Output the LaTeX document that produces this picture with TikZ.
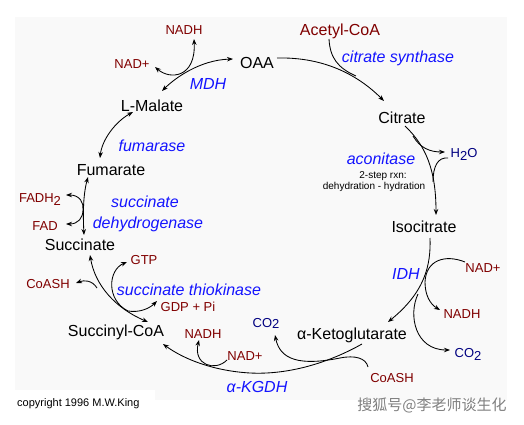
\documentclass[tikz,border=0pt]{standalone}
\usepackage{fontspec}
\setmainfont{Liberation Sans}
\newfontfamily\cjkfont{Noto Sans CJK SC}
\usetikzlibrary{arrows.meta}
\definecolor{cofred}{HTML}{800000}
\definecolor{enzblue}{HTML}{1414FF}
\definecolor{navyc}{HTML}{000080}
\definecolor{bgc}{HTML}{F9F9F9}
\begin{document}
\begin{tikzpicture}[x=1pt,y=-1pt,
  met/.style={font=\fontsize{16}{17}\selectfont, text=black, inner sep=0pt},
  enz/.style={font=\fontsize{16}{17}\selectfont\itshape, text=enzblue, inner sep=0pt},
  cof/.style={font=\fontsize{13}{14}\selectfont, text=cofred, inner sep=0pt},
  gas/.style={font=\fontsize{13}{14}\selectfont, text=navyc, inner sep=0pt},
  note/.style={font=\fontsize{10}{11}\selectfont, text=black, inner sep=0pt},
  link/.style={line width=0.85pt, draw=black},
  tipe/.style={-{Stealth[length=6pt,width=4.5pt]}},
  tipb/.style={{Stealth[length=6pt,width=4.5pt]}-{Stealth[length=6pt,width=4.5pt]}},
]
\useasboundingbox (0,0) rectangle (524,425);
\fill[white] (0,0) rectangle (524,425);
\fill[bgc] (15,17) rectangle (507,400);
\fill[white] (15,390) rectangle (155,413);

% metabolites
\node[met] (oaa) at (257,63) {OAA};
\node[met] (cit) at (402,118) {Citrate};
\node[met] (iso) at (424,227) {Isocitrate};
\node[met] (akg) at (352,335) {α-Ketoglutarate};
\node[met] (sucoa) at (116,332) {Succinyl-CoA};
\node[met] (suc) at (80,245) {Succinate};
\node[met] (fum) at (111,170) {Fumarate};
\node[met] (mal) at (152,106) {L-Malate};

% enzymes
\node[enz] (mdh) at (208,84) {MDH};
\node[enz] (cs) at (398,58) {citrate synthase};
\node[enz] (acon) at (381,159) {aconitase};
\node[note] (rxn1) at (383,176) {2-step rxn:};
\node[note] (rxn2) at (374,187) {dehydration - hydration};
\node[enz] (idh) at (406,274) {IDH};
\node[enz] (akgdh) at (257,387) {α-KGDH};
\node[enz] (sts) at (189,290) {succinate thiokinase};
\node[enz] (sdh1) at (145,202) {succinate};
\node[enz] (sdh2) at (148,224) {dehydrogenase};
\node[enz] (fumase) at (152,146) {fumarase};

% cofactors
\node[cof] (nadhT) at (184,30) {NADH};
\node[cof] (nadT) at (132,64) {NAD+};
\node[cof, font=\fontsize{16}{17}\selectfont] (acoa) at (340,31) {Acetyl-CoA};
\node[gas] (h2o) at (464,154) {H\raisebox{-3pt}{2}O};
\node[cof] (nadR) at (483,268) {NAD+};
\node[cof] (nadhR) at (462,314) {NADH};
\node[gas] (co2R) at (468,354) {CO\raisebox{-3pt}{2}};
\node[gas] (co2L) at (266,323) {CO\raisebox{-1pt}{2}};
\node[cof] (coashR) at (392,378) {CoASH};
\node[cof] (nadB) at (245,356) {NAD+};
\node[cof] (nadhB) at (203,334) {NADH};
\node[cof] (gdp) at (188,306.5) {GDP + Pi};
\node[cof] (gtp) at (144,260) {GTP};
\node[cof] (coashL) at (48,284) {CoASH};
\node[cof] (fad) at (45,226) {FAD};
\node[cof] (fadh2) at (40,200) {FADH\raisebox{-3pt}{2}};

\node[note, font=\fontsize{11}{12}\selectfont, anchor=west] (copy) at (17,404) {copyright 1996 M.W.King};
\node[font=\cjkfont\fontsize{15}{16}\selectfont, text=black!50, inner sep=0pt] (wm) at (432,405) {搜狐号@李老师谈生化};

% connector coordinates
\coordinate (oaaOut) at (277,58);
\coordinate (citIn) at (384,101);
\coordinate (acoaOut) at (329,39);
\coordinate (acoaJ) at (356,76);
\coordinate (citOut) at (405,126);
\coordinate (isoIn) at (436,215);
\coordinate (h2oBr) at (413,136);
\coordinate (h2oOut) at (445,152);
\coordinate (h2oIn) at (448,158);
\coordinate (h2oJ) at (433,182);
\coordinate (isoOut) at (430,238);
\coordinate (akgIn) at (388,322);
\coordinate (nadRIn) at (465,262);
\coordinate (nadhROut) at (440,310);
\coordinate (co2RBr) at (418,294);
\coordinate (co2ROut) at (450,350);
\coordinate (akgOut) at (362,344);
\coordinate (sucoaIn) at (163,344);
\coordinate (kgJ) at (340,358);
\coordinate (co2LOut) at (275,335);
\coordinate (coashRIn) at (368,367);
\coordinate (nadBIn) at (227,360);
\coordinate (nadhBOut) at (199,340);
\coordinate (sucIn) at (90,255);
\coordinate (sucoaOut) at (148,322);
\coordinate (stJ) at (97,288);
\coordinate (coashLOut) at (76,283);
\coordinate (gtpT) at (127,262);
\coordinate (gdpT) at (157,301);
\coordinate (sucOut) at (84,235);
\coordinate (fumIn) at (88,177);
\coordinate (fadh2T) at (66,195);
\coordinate (fadT) at (66,224);
\coordinate (fumOut) at (100,158);
\coordinate (malIn) at (133,112);
\coordinate (malOut) at (162,91);
\coordinate (oaaIn) at (233,59);
\coordinate (nadTT) at (155,67);
\coordinate (nadhTT) at (194,39);

% OAA -> Citrate
\draw[link, tipe] (oaaOut) .. controls (320,57) and (355,72) .. (citIn);
\draw[link] (acoaOut) .. controls (330,58) and (338,68) .. (acoaJ);
% Citrate -> Isocitrate
\draw[link, tipe] (citOut) .. controls (426,146) and (436,170) .. (isoIn);
\draw[link, tipe] (h2oBr) .. controls (420,148) and (430,152) .. (h2oOut);
\draw[link] (h2oIn) .. controls (438,157) and (433,166) .. (h2oJ);
% Isocitrate -> alpha-KG
\draw[link, tipe] (isoOut) .. controls (431,265) and (425,292) .. (akgIn);
\draw[link, tipe] (nadRIn) .. controls (445,254) and (426,260) .. (425,282) .. controls (425,295) and (430,304) .. (nadhROut);
\draw[link, tipe] (co2RBr) .. controls (408,315) and (415,350) .. (co2ROut);
% alpha-KG -> Succinyl-CoA
\draw[link, tipe] (akgOut) .. controls (330,362) and (290,375) .. (250,373) .. controls (215,371) and (185,360) .. (sucoaIn);
\draw[link, tipe] (kgJ) .. controls (300,366) and (280,360) .. (co2LOut);
\draw[link] (coashRIn) .. controls (366,358) and (355,355) .. (kgJ);
\draw[link, tipe] (nadBIn) .. controls (215,372) and (193,365) .. (nadhBOut);
% Succinyl-CoA <-> Succinate
\draw[link, tipb] (sucIn) .. controls (95,285) and (115,308) .. (sucoaOut);
\draw[link, tipe] (stJ) .. controls (92,280) and (84,280) .. (coashLOut);
\draw[link, tipb] (gtpT) .. controls (108,270) and (106,300) .. (128,311) .. controls (140,313) and (150,308) .. (gdpT);
% Succinate <-> Fumarate
\draw[link, tipb] (sucOut) .. controls (83,215) and (83,195) .. (fumIn);
\draw[link, tipb] (fadh2T) .. controls (80,195) and (84,203) .. (83,210) .. controls (83,218) and (78,224) .. (fadT);
% Fumarate <-> L-Malate
\draw[link, tipb] (fumOut) .. controls (102,140) and (115,122) .. (malIn);
% L-Malate <-> OAA
\draw[link, tipb] (malOut) .. controls (175,78) and (200,60) .. (oaaIn);
\draw[link, tipb] (nadTT) .. controls (170,80) and (196,78) .. (nadhTT);
\end{tikzpicture}
\end{document}
